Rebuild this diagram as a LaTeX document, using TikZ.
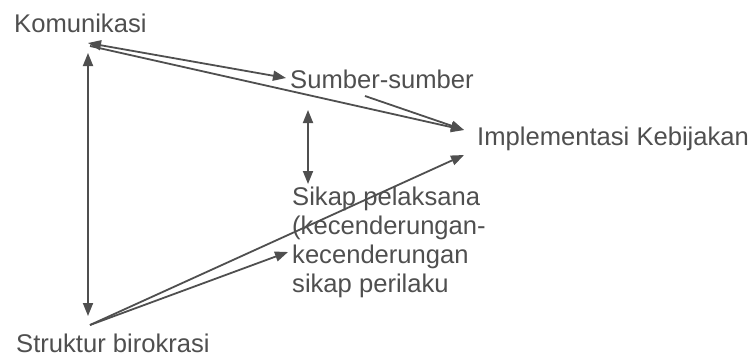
\documentclass[tikz,border=0pt]{standalone}
\usepackage{fontspec}
\setmainfont{Liberation Sans}
\usetikzlibrary{arrows.meta}
\definecolor{ink}{HTML}{4F4F4F}
\begin{document}
\begin{tikzpicture}[x=1pt,y=-1pt,
  lbl/.style={anchor=base west,inner sep=0pt,text=ink,font=\fontsize{25.6}{28.8}\selectfont},
  conn/.style={draw=ink,line width=1.8pt,-{Triangle[length=13pt,width=10pt]}},
  conn2/.style={draw=ink,line width=1.8pt,{Triangle[length=13pt,width=10pt]}-{Triangle[length=13pt,width=10pt]}}]
\useasboundingbox (0,0) rectangle (751,356);
\node[lbl] (kom) at (14,32) {Komunikasi};
\node[lbl] (sum) at (290,88) {Sumber-sumber};
\node[lbl] (imp) at (477,145) {Implementasi Kebijakan};
\node[lbl,anchor=north west,align=left] (sik) at (292,187) {Sikap pelaksana\\(kecenderungan-\\kecenderungan\\sikap perilaku};
\node[lbl] (str) at (16,352) {Struktur birokrasi};
% connector endpoints
\coordinate (kA) at (88,43);
\coordinate (kB) at (90,46);
\coordinate (kV) at (88,53);
\coordinate (sV) at (88,316);
\coordinate (sA) at (90,325);
\coordinate (sumL) at (286,78);
\coordinate (sumB) at (365,96);
\coordinate (sumV) at (308,110);
\coordinate (sikV) at (308,184);
\coordinate (sikL) at (288,252);
\coordinate (impA) at (464,130);
\coordinate (impB) at (464,155);
\draw[conn2] (kA) -- (sumL);
\draw[conn] (kB) -- (impA);
\draw[conn2] (kV) -- (sV);
\draw[conn] (sA) -- (sikL);
\draw[conn] (sA) -- (impB);
\draw[conn] (sumB) -- (impA);
\draw[conn2] (sumV) -- (sikV);
\end{tikzpicture}
\end{document}
